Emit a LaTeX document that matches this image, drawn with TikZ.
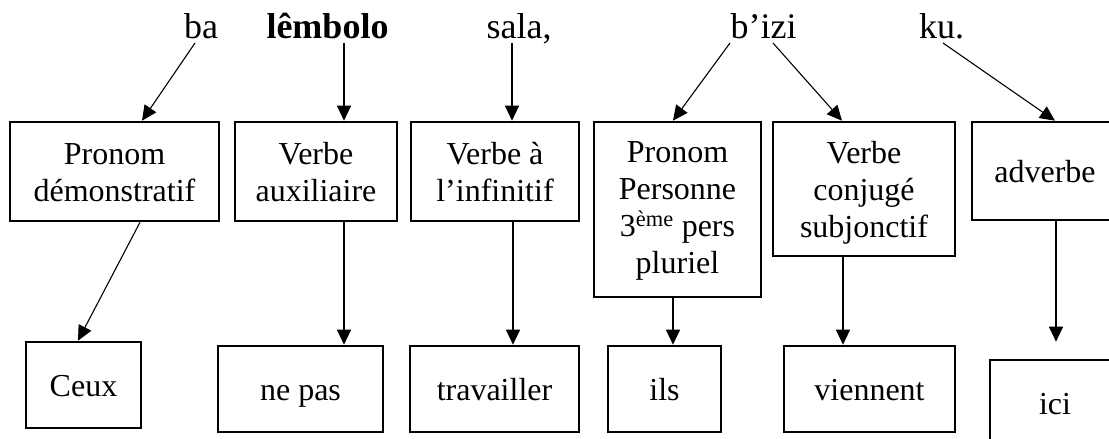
\documentclass[tikz,border=0pt]{standalone}
\usepackage{fontspec}
\setmainfont{Liberation Serif}
\usetikzlibrary{arrows.meta}
\newcommand\bxs{\rule[-7.5pt]{0pt}{37pt}}
\newcommand\bxl{\rule[-13.5pt]{0pt}{43pt}}
\begin{document}
\begin{tikzpicture}[x=1pt,y=-1pt,
  word/.style={inner sep=0pt, anchor=base, font=\fontsize{36}{40}\selectfont},
  box/.style={draw, line width=2.6pt, inner sep=0pt, align=center, font=\fontsize{32}{37}\selectfont},
  arr/.style={line width=1.1pt, -{Triangle[length=15pt,width=14pt]}}]
\useasboundingbox (0,0) rectangle (1109,439);
% sentence words
\node[word] (w1) at (201,38) {ba};
\node[word, font=\fontsize{36}{40}\selectfont\bfseries] (w2) at (327.5,38) {lêmbolo};
\node[word] (w3) at (519,38) {sala,};
\node[word] (w4) at (763.5,38) {b’izi};
\node[word] (w5) at (941.5,38) {ku.};
% category boxes
\node[box, minimum width=209pt, minimum height=99pt] (pd) at (114.5,171.5) {\bxs Pronom\\\bxs démonstratif};
\node[box, minimum width=162pt, minimum height=99pt] (aux) at (316,171.5) {\bxs Verbe\\\bxs auxiliaire};
\node[box, minimum width=168pt, minimum height=99pt] (inf) at (495,171.5) {\bxs Verbe à\\\bxs l’infinitif};
\node[box, minimum width=167pt, minimum height=175pt] (pp) at (677.5,209.5) {\bxs Pronom\\\bxs Personne\\\bxs 3\textsuperscript{ème} pers\\\bxl pluriel};
\node[box, minimum width=182pt, minimum height=134pt] (conj) at (864,189) {\bxs Verbe\\\bxs conjugé\\\bxs subjonctif};
\node[box, minimum width=146pt, minimum height=98pt] (adv) at (1045,171) {\bxs adverbe};
% translation boxes
\node[box, minimum width=115pt, minimum height=86pt] (ceux) at (83.5,385) {\bxs Ceux};
\node[box, minimum width=165pt, minimum height=86pt] (nepas) at (300.5,389) {\bxs ne pas};
\node[box, minimum width=169pt, minimum height=86pt] (trav) at (494.5,389) {\bxs travailler};
\node[box, minimum width=113pt, minimum height=86pt] (ils) at (664.5,389) {\bxs ils};
\node[box, minimum width=171pt, minimum height=86pt] (vien) at (869.5,389) {\bxs viennent};
\node[box, minimum width=130pt, minimum height=86pt] (ici) at (1055,403) {\bxs ici};
% arrows words -> categories
\draw[arr] ([xshift=-6pt,yshift=-5pt]w1.base) -- ([xshift=27.5pt]pd.north);
\draw[arr] ([xshift=16.5pt,yshift=-5pt]w2.base) -- ([xshift=28pt]aux.north);
\draw[arr] ([xshift=-7pt,yshift=-5pt]w3.base) -- ([xshift=17pt]inf.north);
\draw[arr] ([xshift=-33.5pt,yshift=-5pt]w4.base) -- ([xshift=-4.5pt]pp.north);
\draw[arr] ([xshift=9.5pt,yshift=-5pt]w4.base) -- ([xshift=-22pt]conj.north);
\draw[arr] ([xshift=1.5pt,yshift=-5pt]w5.base) -- ([xshift=10pt]adv.north);
% arrows categories -> translations
\draw[arr] ([xshift=25.5pt]pd.south) -- ([xshift=-5.5pt]ceux.north);
\draw[arr] ([xshift=28pt]aux.south) -- ([xshift=43.5pt]nepas.north);
\draw[arr] ([xshift=18pt]inf.south) -- ([xshift=18.5pt]trav.north);
\draw[arr] ([xshift=-4.5pt]pp.south) -- ([xshift=8.5pt]ils.north);
\draw[arr] ([xshift=-21pt]conj.south) -- ([xshift=-26.5pt]vien.north);
\draw[arr, shorten >=17pt] ([xshift=11pt]adv.south) -- ([xshift=1pt]ici.north);
\end{tikzpicture}
\end{document}
